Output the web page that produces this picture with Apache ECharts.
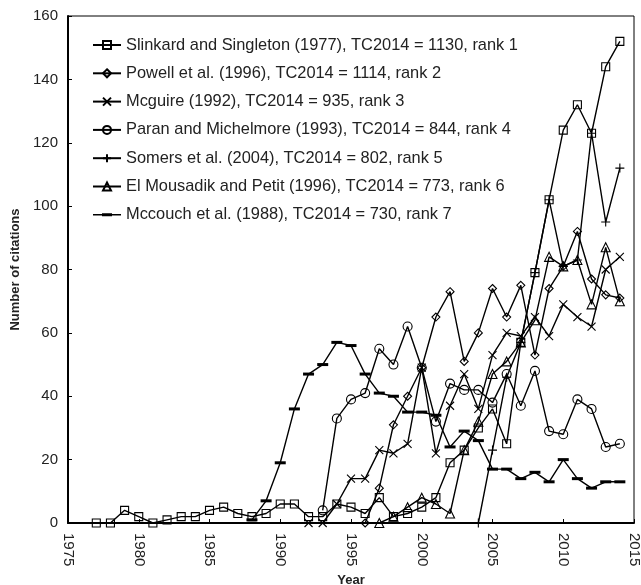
<!DOCTYPE html>
<html>
<head>
<meta charset="utf-8">
<script src="https://cdn.jsdelivr.net/npm/echarts@6/dist/echarts.min.js"></script>
<style>
  html, body { margin: 0; padding: 0; background: #fff; }
  #chart { width: 641px; height: 585px; }
</style>
</head>
<body>
<div id="chart"></div>
<script>
// series data: start year + yearly citation counts
var slinkardStart = 1977;
var slinkard = [0,0,4,2,0,1,2,2,4,5,3,2,3,6,6,2,2,6,5,3,8,2,3,5,8,19,23,30,36,25,57,79,102,124,132,123,144,152];
var powellStart = 1996;
var powell = [0,11,31,40,49,65,73,51,60,74,65,75,53,74,81,92,77,72,71];
var mcguireStart = 1992;
var mcguire = [0,0,6,14,14,23,22,25,49,22,37,47,36,53,60,59,65,59,69,65,62,80,84];
var paranStart = 1993;
var paran = [4,33,39,41,55,50,62,49,32,44,42,42,38,47,37,48,29,28,39,36,24,25];
var somersStart = 2004;
var somers = [0,23,46,57,79,102,81,83,123,95,112];
var mousadikStart = 1997;
var mousadik = [0,2,5,8,6,3,23,32,47,51,57,64,84,81,83,69,87,70];
var mccouchStart = 1988;
var mccouch = [1,7,19,36,47,50,57,56,47,41,40,35,35,34,24,29,26,17,17,14,16,13,20,14,11,13,13];

var names = [
  'Slinkard and Singleton (1977), TC2014 = 1130, rank 1',
  'Powell et al. (1996), TC2014 = 1114, rank 2',
  'Mcguire (1992), TC2014 = 935, rank 3',
  'Paran and Michelmore (1993), TC2014 = 844, rank 4',
  'Somers et al. (2004), TC2014 = 802, rank 5',
  'El Mousadik and Petit (1996), TC2014 = 773, rank 6',
  'Mccouch et al. (1988), TC2014 = 730, rank 7'
];

function pairs(start, vals) {
  return vals.map(function (v, i) { return [start + i, v]; });
}

var SQUARE = 'path://M0,0L10,0L10,10L0,10Z';
var DIAMOND = 'path://M5,0L10,5L5,10L0,5Z';
var CROSS = 'path://M0,0L10,10M10,0L0,10';
var PLUS = 'path://M5,0L5,10M0,5L10,5';
var TRI = 'path://M5,0L10,10L0,10Z';
var DASH = 'path://M0,0L11,0L11,3L0,3Z';
var CIRCLE = 'circle';
// legend icon for the dash series: thin line + short thick dash
var DASH_LEGEND = 'path://M0,0L28,0M0,10L28,10M0,4.3L28,4.3L28,5.7L0,5.7Z M9,3.5L19,3.5L19,6.5L9,6.5Z';

function mk(name, data, symbol, size) {
  return {
    name: name,
    type: 'line',
    data: data,
    symbol: symbol,
    symbolSize: size,
    showSymbol: true,
    animation: false,
    lineStyle: { color: '#000', width: 1.4 },
    itemStyle: { color: 'rgba(0,0,0,0)', borderColor: '#000', borderWidth: 1.1 }
  };
}

var series = [
  mk(names[0], pairs(slinkardStart, slinkard), SQUARE, 8),
  mk(names[1], pairs(powellStart, powell), DIAMOND, 8),
  mk(names[2], pairs(mcguireStart, mcguire), CROSS, 8),
  mk(names[3], pairs(paranStart, paran), CIRCLE, 9),
  mk(names[4], pairs(somersStart, somers), PLUS, 9),
  mk(names[5], pairs(mousadikStart, mousadik), TRI, 9),
  mk(names[6], pairs(mccouchStart, mccouch), DASH, 11)
];
series[6].itemStyle = { color: '#000', borderWidth: 0 };
series[6].symbolKeepAspect = true;

var legendData = names.map(function (n, i) {
  return i === 6 ? { name: n, icon: DASH_LEGEND } : { name: n };
});

var myChart = echarts.init(document.getElementById('chart'));
var option = {
  backgroundColor: '#fff',
  textStyle: { fontFamily: 'Liberation Sans, Arial, sans-serif', color: '#222' },
  grid: {
    left: 68, right: 7, top: 16, bottom: 62,
    outerBoundsMode: 'none',
    show: true, borderColor: '#000', borderWidth: 1
  },
  legend: {
    orient: 'vertical',
    left: 87,
    top: 32,
    itemWidth: 28,
    itemHeight: 10,
    itemGap: 12.3,
    data: legendData,
    textStyle: { fontSize: 16.4, color: '#222', fontFamily: 'Liberation Sans, Arial, sans-serif' }
  },
  xAxis: {
    type: 'value',
    min: 1975,
    max: 2015,
    interval: 5,
    name: 'Year',
    nameLocation: 'middle',
    nameGap: 50,
    nameTextStyle: { fontWeight: 'bold', fontSize: 13, color: '#222' },
    axisLine: { lineStyle: { color: '#000', width: 2 } },
    axisTick: { inside: true, length: 4, lineStyle: { color: '#000' } },
    axisLabel: {
      rotate: -90, fontSize: 15, color: '#222', margin: 10,
      formatter: function (v) { return String(v); }
    },
    splitLine: { show: false }
  },
  yAxis: {
    type: 'value',
    min: 0,
    max: 160,
    interval: 20,
    name: 'Number of citations',
    nameLocation: 'middle',
    nameGap: 45,
    nameTextStyle: { fontWeight: 'bold', fontSize: 13, color: '#222' },
    axisLine: { show: true, lineStyle: { color: '#000', width: 2 } },
    axisTick: { show: true, inside: true, length: 4, lineStyle: { color: '#000' } },
    axisLabel: { fontSize: 15, color: '#222', margin: 10 },
    splitLine: { show: false }
  },
  series: series
};
myChart.setOption(option);
window.addEventListener('resize', function () { myChart.resize(); });
</script>
</body>
</html>
